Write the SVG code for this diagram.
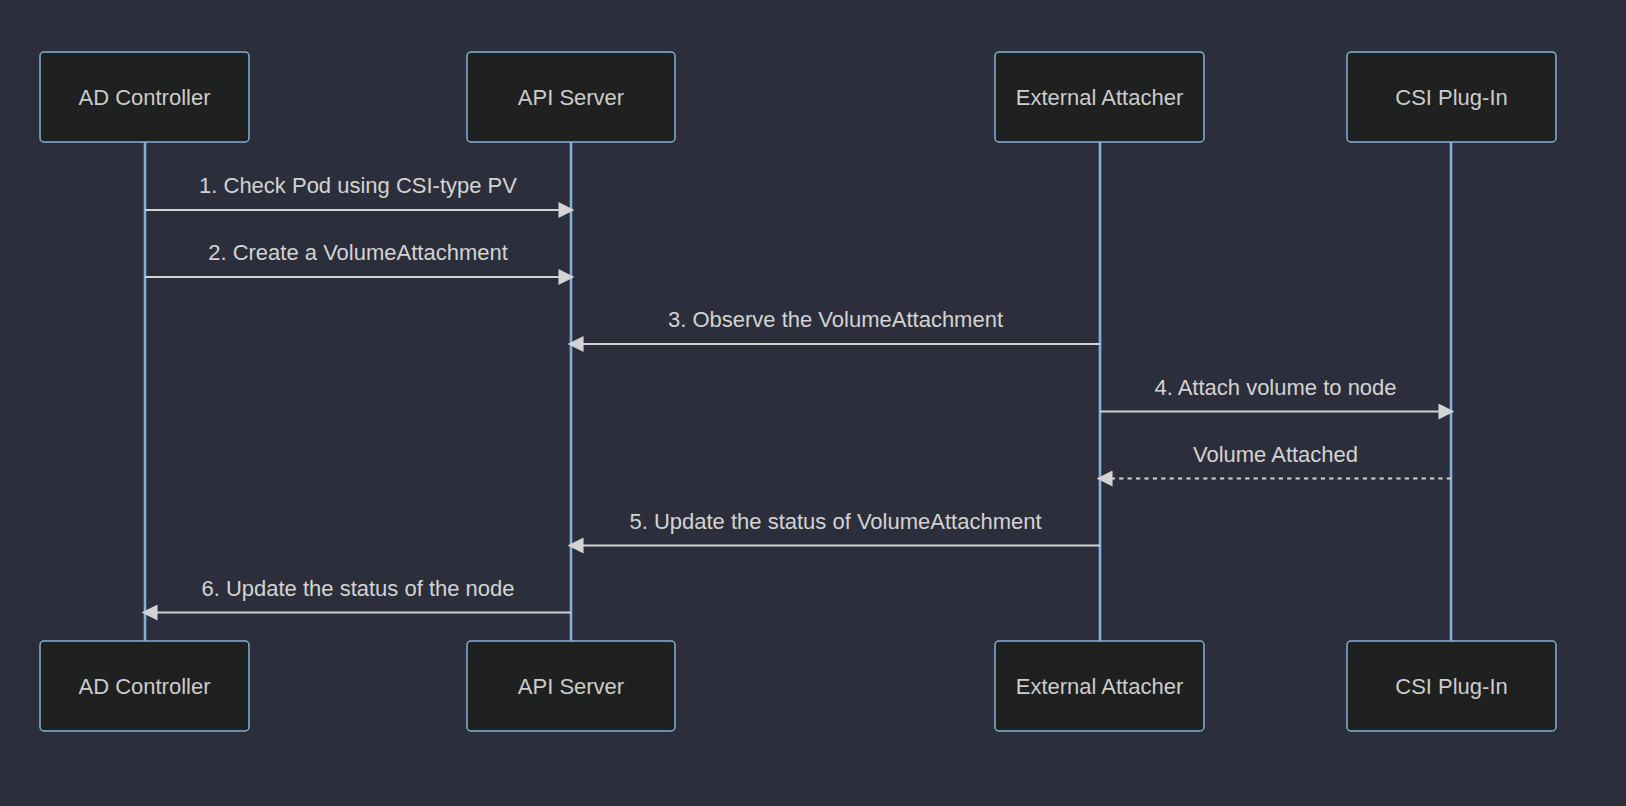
<svg xmlns="http://www.w3.org/2000/svg" width="1626" height="806" viewBox="0 0 1626 806">
<style>
.bg{fill:#2c2f3b}
.actor rect{fill:#1f2020;stroke:#81b1db;stroke-width:1.5}
.actor text{font-family:"Liberation Sans",Arial,sans-serif;font-size:22px;fill:#cccccc;text-anchor:middle}
.life{stroke:#81b1db;stroke-width:2.6}
.msg{stroke:#d3d3d3;stroke-width:2.2;fill:none}
.dash{stroke-dasharray:4.2 4.2}
.lbl{font-family:"Liberation Sans",Arial,sans-serif;font-size:22px;fill:#d3d3d3;text-anchor:middle}
</style>
<defs>
<marker id="ah" markerUnits="userSpaceOnUse" markerWidth="16" markerHeight="16" viewBox="0 0 14 14" refX="11" refY="7" orient="auto">
<path d="M0,0 L14,7 L0,14 z" fill="#d3d3d3"/>
</marker>
</defs>
<rect class="bg" x="0" y="0" width="1626" height="806"/>
<g id="lifelines">
<line class="life" x1="145" y1="142" x2="145" y2="641"/>
<line class="life" x1="571" y1="142" x2="571" y2="641"/>
<line class="life" x1="1100" y1="142" x2="1100" y2="641"/>
<line class="life" x1="1451" y1="142" x2="1451" y2="641"/>
</g>
<g id="ad-controller" class="actor">
<rect x="40" y="52" width="209" height="90" rx="4"/>
<text x="144.5" y="105">AD Controller</text>
<rect x="40" y="641" width="209" height="90" rx="4"/>
<text x="144.5" y="694">AD Controller</text>
</g>
<g id="api-server" class="actor">
<rect x="467" y="52" width="208" height="90" rx="4"/>
<text x="571" y="105">API Server</text>
<rect x="467" y="641" width="208" height="90" rx="4"/>
<text x="571" y="694">API Server</text>
</g>
<g id="external-attacher" class="actor">
<rect x="995" y="52" width="209" height="90" rx="4"/>
<text x="1099.5" y="105">External Attacher</text>
<rect x="995" y="641" width="209" height="90" rx="4"/>
<text x="1099.5" y="694">External Attacher</text>
</g>
<g id="csi-plugin" class="actor">
<rect x="1347" y="52" width="209" height="90" rx="4"/>
<text x="1451.5" y="105">CSI Plug-In</text>
<rect x="1347" y="641" width="209" height="90" rx="4"/>
<text x="1451.5" y="694">CSI Plug-In</text>
</g>
<g id="connectors">
<line class="msg" x1="145" y1="210" x2="571" y2="210" marker-end="url(#ah)"/>
<text class="lbl" x="358" y="193">1. Check Pod using CSI-type PV</text>
<line class="msg" x1="145" y1="277" x2="571" y2="277" marker-end="url(#ah)"/>
<text class="lbl" x="358" y="260">2. Create a VolumeAttachment</text>
<line class="msg" x1="1100" y1="344" x2="571" y2="344" marker-end="url(#ah)"/>
<text class="lbl" x="835.5" y="327">3. Observe the VolumeAttachment</text>
<line class="msg" x1="1100" y1="411.5" x2="1451" y2="411.5" marker-end="url(#ah)"/>
<text class="lbl" x="1275.5" y="394.5">4. Attach volume to node</text>
<line class="msg dash" x1="1451" y1="478.5" x2="1100" y2="478.5" marker-end="url(#ah)"/>
<text class="lbl" x="1275.5" y="461.5">Volume Attached</text>
<line class="msg" x1="1100" y1="545.5" x2="571" y2="545.5" marker-end="url(#ah)"/>
<text class="lbl" x="835.5" y="528.5">5. Update the status of VolumeAttachment</text>
<line class="msg" x1="571" y1="612.5" x2="145" y2="612.5" marker-end="url(#ah)"/>
<text class="lbl" x="358" y="595.5">6. Update the status of the node</text>
</g>
</svg>
